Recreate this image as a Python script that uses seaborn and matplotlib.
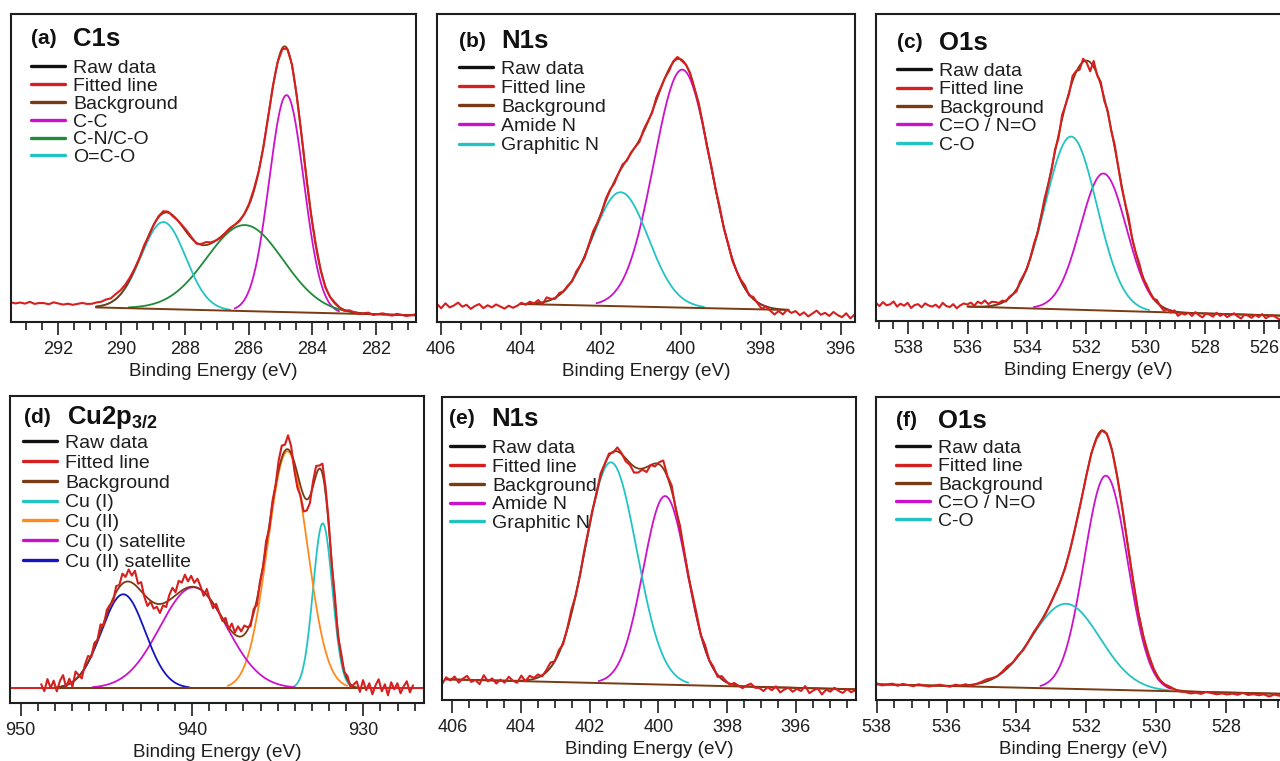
import numpy as np
import pandas as pd
import matplotlib
matplotlib.use("Agg")
import matplotlib.pyplot as plt
from matplotlib.ticker import MultipleLocator
from matplotlib.lines import Line2D
import seaborn as sns

sns.set_theme(style="white")
plt.rcParams['font.family'] = ['Liberation Sans', 'DejaVu Sans']
plt.rcParams['mathtext.fontset'] = 'custom'
plt.rcParams['mathtext.rm'] = 'Liberation Sans'
plt.rcParams['mathtext.bf'] = 'Liberation Sans:bold'

# ---------------- data (intensity in arbitrary units) ----------------
# (a) C1s
a_names = ["C-C", "C-N/C-O", "O=C-O"]
a_centers = [284.81, 286.12, 288.68]
a_fwhm = [1.28, 2.83, 1.64]
a_heights = [217, 86, 87]
a_bg_x = [290.8, 280.74]
a_bg_y = [14.3, 6.4]
a_raw_range = [293.48, 280.74]
a_resid = [3, 2, 3, 2, 4, 2, 3, 3, 2, 4, 3, 2, 3, 2, 3, 4, 3, 3, 4, 4,
           5, 4, 5, 4, 3, 2,
           1, 0, 1, -1, 0, 1, 2, 1, -1, 0, 1, 2, 1, -1, 1,
           3, 1, 0, -1, 0, 1, 0, -1, 0, 1, 2, 0, -1, 0, 1,
           0, -1, 0, 1, 0, 0, -1, 0, 1, 0, -1, 0, 1, 0, -1,
           1, 0, -1, 0, 1, -1, 0, 1, 0, -1, 1, 0, -1, 0, 1]

# (b) N1s
b_names = ["Amide N", "Graphitic N"]
b_centers = [399.96, 401.5]
b_fwhm = [1.67, 1.63]
b_heights = [238, 114]
b_bg_x = [404.0, 397.3]
b_bg_y = [18.0, 12.0]
b_raw_range = [406.09, 395.65]
b_resid = [-2, -6, -1, -5, -3, 0, -4, -2, -6, -3, -1, -5, -2, -4, -1, -3, -5, -2, -4,
           -2, 1, -1, 2, 0, 3, -2, 4, 1, -1, 2, 0,
           1, -1, 2, 0, -2, 1, 3, 0, -1, 2, 1, -2, 0, 2, -1, 1, 0, -2, 2, 1, -1, 3, 1, 0, -2, 1, 2, -1, 0, 1,
           -1, 2, 0, -2, 1, 0, 2, -1, 1, -2, 0, 1, 3, -1, 2,
           -1, -4, 0, -3, -6, -2, -5, 0, -3, -1, -5, -2, -6, -3, 0, -4, -2, -5, -1, -4, -6, -2, -7, -3]

# (c) O1s
c_names = ["C=O / N=O", "C-O"]
c_centers = [531.42, 532.51]
c_fwhm = [1.83, 2.05]
c_heights = [137, 173]
c_bg_x = [536.0, 525.0]
c_bg_y = [14.4, 5.0]
c_raw_range = [539.09, 525.0]
c_resid = [1, -2, 2, -1, 0, 3, -2, 1, -1, 2, -3, 0, 1, -2, 2, 0, -1, 1, -2, 3, 0, -1, 2, -2, 1, 3,
           2, 4, 1, 5, 3, 6, 2, 4, 3, 1,
           2, -1, 1, 0, -2, 2, 1, -1, 0, 2, -1, 1, 3, 0, -2,
           2, -3, 4, 0, -2, 5, 1, -4, 3, -2, -9, 6, -1, 3, -3,
           2, -1, 3, 0, -2, 1, 4, -1, 0, 2, -2, 1, 0, -1, 2,
           -1, -3, 0, -2, 1, -4, -1, -2, 0, -3, 1, -2, -4, 0, -1, -3, 1, -2, 0, -3,
           -1, 1, -2, -4, 0, -1, -3, 0, -2, 1, -3, -1, 0, -2, -4, -1, 1, -2, -1]

# (d) Cu2p3/2
d_names = ["Cu (I)", "Cu (II)", "Cu (I) satellite", "Cu (II) satellite"]
d_centers = [932.37, 934.43, 939.92, 944.01]
d_fwhm = [1.32, 2.72, 4.6, 3.0]
d_heights = [165, 237, 101, 94]
d_bg_x = [948.0, 929.8]
d_bg_y = [15.0, 15.0]
d_raw_range = [948.8, 927.1]
d_resid = [4, -3, 9, 0, 7, -4, 6, 11, -2, 5, -5, 8, 1, -6, 3,
           6, -2, 5, 0, 7, -3, 4, 1, -4, 6, 2,
           10, 5, 12, 7, 14, 4, 9,
           -2, -8, -1, -6, -3, -9, -2, -5,
           5, 10, 3, 12, 8, 14, 6, 11, 4, 9,
           3, -4, 6, -1, -5, 4, 0, -3, 5, -2,
           8, 2, 10, 5, 9, 3,
           -3, 4, -5, 2, -1, 5, -4, 3, 0,
           9, 12, 6, 14, 7,
           -8, -14, -10, -16, -11, -7,
           5, 9, 3, 10, 6, 4,
           -2, 5, -4, 3, -1, 4, -3, 2,
           6, -4, 8, -2, 5, -6, 3, 9, -3, 4, -7, 6, -1, 5, -5, 2, 7, -4, 3]

# (e) N1s
e_names = ["Amide N", "Graphitic N"]
e_centers = [399.8, 401.38]
e_fwhm = [1.51, 1.77]
e_heights = [188.6, 221]
e_bg_x = [406.2, 394.24]
e_bg_y = [21.0, 11.0]
e_raw_range = [406.3, 394.26]
e_resid = [-5, 2, -1, 3, -3, 1, 4, -2, 0, -4, 5, -1, 2, -3, 1, -2, 4, 0, -2, 5, -1,
           4, 1, 3, -1, 2, 5, 0, 3, -2, 1, 4, 0, -1, 2, 1,
           1, -2, 3, 0, 2, -1, 4, 1, -3, -2, -6, -4, -1, -5, 0, -3, 2, 8, 1, 5, -2, 3, 0, -2, 2,
           3, -1, 4, 0, 2, -2, 3, 1, -1, 2, 0, -2, 1, 3, -1,
           -1, -4, 0, -3, 1, -5, -2, 0, -4, -1, -3, 2, -5, -2, 0, -6, -1, -3, 1, -2, -4, 0, -3, -1]

# (f) O1s
f_names = ["C=O / N=O", "C-O"]
f_centers = [531.44, 532.58]
f_fwhm = [1.46, 2.29]
f_heights = [214, 85]
f_bg_x = [538.0, 526.17]
f_bg_y = [15.7, 6.0]
f_raw_range = [538.0, 526.17]
f_resid = [1, -1, 0, 1, -1, 1, 0, -1, 1, 0, -1, 0, 1, 0, -1, 1, 0, 1, -1, 0,
           1, 2, 1, 0, 1, 2, 0, 1, -1, 0, 1, 0, -1, 0, 1, 0, -1, 0, 1, 0,
           0, 1, -1, 0, 1, 0, -1, 0, 0, 1, -1, 0, 1, 0, -1, 0, 1, 0, -1, -1,
           -2, -1, -2, 0, -1, -2, -1, -2, -1, -2, 0, -2, -1, -2, -1, -3, -1, -2, -1, -2]

# ---------------- styling / layout ----------------
RED = '#d61f1f'
BROWN = '#7a3a12'
MAG = '#cc11cc'
GREEN = '#1f8a3a'
CYAN = '#22c3c3'
ORANGE = '#ff8a1c'
BLUE = '#1414c0'
INK = '#1e1e1e'

W, H = 1280, 761
panels = [
    dict(tag="(a)", title="C1s", names=a_names, centers=a_centers, fwhm=a_fwhm, heights=a_heights,
         bg_x=a_bg_x, bg_y=a_bg_y, raw=a_raw_range, resid=a_resid, colors=[MAG, GREEN, CYAN],
         box=(10.7, 14, 416, 321.7), xlim=(293.48, 280.74), major=2, minor=0.5,
         tag_dx=20, title_dx=62, title_dy=25, leg_dx=20, leg_dy=45.5, lsp=0.01),
    dict(tag="(b)", title="N1s", names=b_names, centers=b_centers, fwhm=b_fwhm, heights=b_heights,
         bg_x=b_bg_x, bg_y=b_bg_y, raw=b_raw_range, resid=b_resid, colors=[MAG, CYAN],
         box=(437, 14, 855, 322), xlim=(406.09, 395.64), major=2, minor=0.5,
         tag_dx=22, title_dx=64.7, title_dy=27.5, leg_dx=22, leg_dy=46.5, lsp=0.074),
    dict(tag="(c)", title="O1s", names=c_names, centers=c_centers, fwhm=c_fwhm, heights=c_heights,
         bg_x=c_bg_x, bg_y=c_bg_y, raw=c_raw_range, resid=c_resid, colors=[MAG, CYAN],
         box=(876, 14, 1300, 321), xlim=(539.09, 524.79), major=2, minor=0.5,
         tag_dx=20.7, title_dx=63.3, title_dy=29, leg_dx=20.7, leg_dy=48.5, lsp=0.04),
    dict(tag="(d)", title=r"Cu2p$_{\mathbf{3/2}}$", names=d_names, centers=d_centers, fwhm=d_fwhm,
         heights=d_heights, bg_x=d_bg_x, bg_y=d_bg_y, raw=d_raw_range, resid=d_resid,
         colors=[CYAN, ORANGE, MAG, BLUE],
         box=(10, 396, 424, 703.3), xlim=(950.62, 926.46), major=10, minor=1,
         tag_dx=14, title_dx=56.7, title_dy=21.5, leg_dx=12.7, leg_dy=38.5, lsp=0.11),
    dict(tag="(e)", title="N1s", names=e_names, centers=e_centers, fwhm=e_fwhm, heights=e_heights,
         bg_x=e_bg_x, bg_y=e_bg_y, raw=e_raw_range, resid=e_resid, colors=[MAG, CYAN],
         box=(442, 397, 856, 700.3), xlim=(406.3, 394.24), major=2, minor=0.5,
         tag_dx=7.3, title_dx=49.7, title_dy=21.5, leg_dx=8, leg_dy=42.5, lsp=0.06),
    dict(tag="(f)", title="O1s", names=f_names, centers=f_centers, fwhm=f_fwhm, heights=f_heights,
         bg_x=f_bg_x, bg_y=f_bg_y, raw=f_raw_range, resid=f_resid, colors=[MAG, CYAN],
         box=(876, 397, 1290, 700), xlim=(538.02, 526.17), major=2, minor=0.5,
         tag_dx=20, title_dx=62.3, title_dy=24, leg_dx=20, leg_dy=42.5, lsp=0.033),
]


def gauss(x, c, fwhm, h):
    s = fwhm / 2.3548
    return h * np.exp(-0.5 * ((x - c) / s) ** 2)


def bg_line(x, bx, by):
    return by[0] + (x - bx[0]) * (by[1] - by[0]) / (bx[1] - bx[0])


def draw(ax, x, y, color, lw):
    sns.lineplot(x=x, y=y, ax=ax, color=color, linewidth=lw, estimator=None,
                 sort=False, legend=False)


fig = plt.figure(figsize=(W / 100, H / 100), dpi=100)

for p in panels:
    l, t, r, b = p['box']
    ax = fig.add_axes([l / W, (H - b) / H, (r - l) / W, (b - t) / H])
    ax_h = b - t
    ax_w = r - l
    bx, by = p['bg_x'], p['bg_y']

    xb = np.linspace(bx[0], bx[1], 400)
    # fitted components
    for c, fw, h, col in zip(p['centers'], p['fwhm'], p['heights'], p['colors']):
        comp = gauss(xb, c, fw, h)
        m = comp > 0.01 * h
        draw(ax, xb[m], comp[m] + bg_line(xb[m], bx, by), col, 1.3)
    if p['tag'] == "(d)":
        ax.axhline(by[0], color=RED, lw=1.4, zorder=1)
    # background
    draw(ax, xb, bg_line(xb, bx, by), BROWN, 1.4)
    # fitted envelope
    env = bg_line(xb, bx, by) + sum(gauss(xb, c, fw, h) for c, fw, h in
                                    zip(p['centers'], p['fwhm'], p['heights']))
    draw(ax, xb, env, BROWN, 1.3)
    # raw data
    res = np.array(p['resid'], dtype=float)
    xr = np.linspace(p['raw'][0], p['raw'][1], len(res))
    raw = bg_line(xr, bx, by) + sum(gauss(xr, c, fw, h) for c, fw, h in
                                    zip(p['centers'], p['fwhm'], p['heights'])) + res
    draw(ax, xr, raw, RED, 1.5)

    ax.set_xlim(*p['xlim'])
    ax.set_ylim(0, ax_h)
    ax.set_yticks([])
    ax.xaxis.set_major_locator(MultipleLocator(p['major']))
    ax.xaxis.set_minor_locator(MultipleLocator(p['minor']))
    ax.tick_params(axis='x', which='major', direction='out', length=9.2, width=1.2,
                   labelsize=13, pad=4.6, colors=INK, labelcolor=INK, bottom=True)
    ax.tick_params(axis='x', which='minor', direction='out', length=6, width=1.2,
                   colors=INK, bottom=True)
    for s in ax.spines.values():
        s.set_linewidth(1.5)
        s.set_color(INK)
    ax.set_xlabel("Binding Energy (eV)", fontsize=13.6, labelpad=3.5, color=INK)
    ax.set_ylabel("")

    ax.text(p['tag_dx'] / ax_w, 1 - p['title_dy'] / ax_h, p['tag'], transform=ax.transAxes,
            fontsize=15, fontweight='bold', va='center', ha='left', color='#111111')
    ax.text(p['title_dx'] / ax_w, 1 - p['title_dy'] / ax_h, p['title'], transform=ax.transAxes,
            fontsize=18.5, fontweight='bold', va='center', ha='left', color='#111111')

    handles = [Line2D([], [], color='#111111', lw=2.4),
               Line2D([], [], color=RED, lw=2.4),
               Line2D([], [], color=BROWN, lw=2.4)]
    handles += [Line2D([], [], color=col, lw=2.4) for col in p['colors']]
    labels = ["Raw data", "Fitted line", "Background"] + list(p['names'])
    ax.legend(handles, labels, loc='upper left',
              bbox_to_anchor=(p['leg_dx'] / ax_w, 1 - p['leg_dy'] / ax_h),
              borderaxespad=0, borderpad=0, frameon=False, fontsize=14,
              handlelength=1.75, handletextpad=0.42, labelspacing=p['lsp'],
              labelcolor=INK)

fig.savefig("out.png", dpi=100)
